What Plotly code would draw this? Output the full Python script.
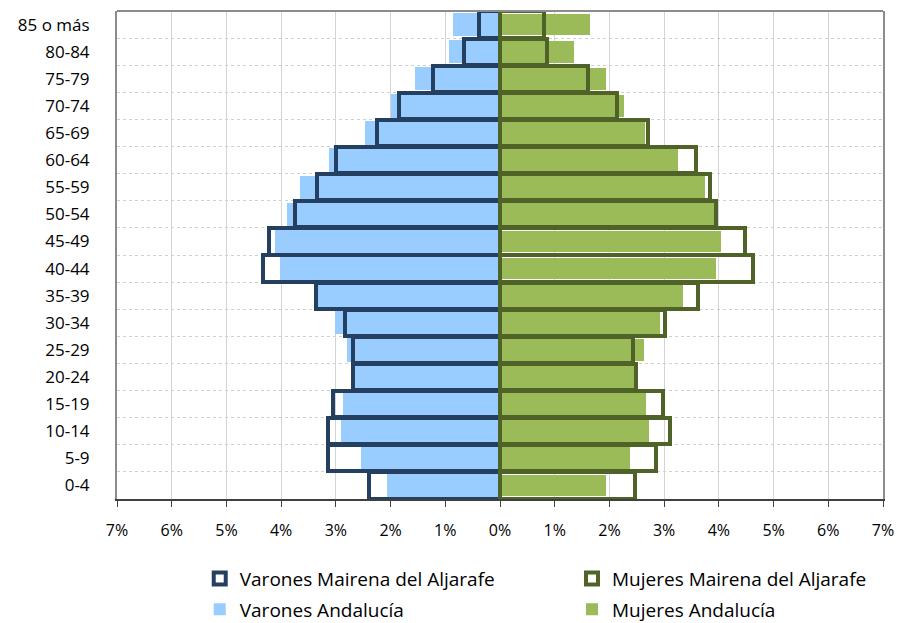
import plotly.graph_objects as go

# grupos de edad, de abajo hacia arriba
grupos = ['0-4', '5-9', '10-14', '15-19', '20-24', '25-29', '30-34', '35-39',
          '40-44', '45-49', '50-54', '55-59', '60-64', '65-69', '70-74',
          '75-79', '80-84', '85 o más']

varones_mairena = [2.40, 3.15, 3.14, 3.05, 2.69, 2.68, 2.83, 3.37, 4.34,
                   4.23, 3.75, 3.34, 2.99, 2.24, 1.85, 1.23, 0.65, 0.38]
varones_andalucia = [2.07, 2.54, 2.91, 2.87, 2.72, 2.80, 3.02, 3.33, 4.03,
                     4.11, 3.89, 3.65, 3.12, 2.46, 1.99, 1.55, 0.93, 0.86]
mujeres_mairena = [2.47, 2.86, 3.10, 2.97, 2.49, 2.43, 3.01, 3.61, 4.62,
                   4.48, 3.95, 3.83, 3.58, 2.71, 2.14, 1.61, 0.86, 0.81]
mujeres_andalucia = [1.93, 2.37, 2.72, 2.67, 2.45, 2.63, 2.93, 3.35, 3.95,
                     4.04, 3.92, 3.75, 3.26, 2.65, 2.26, 1.93, 1.36, 1.65]

ticks = list(range(-7, 8))
tick_labels = ['%d%%' % abs(t) for t in ticks]

pos = list(range(len(grupos)))
font = 'Open Sans, Lato, sans-serif'

traces = [
    go.Bar(y=pos, x=[-v for v in varones_andalucia], orientation='h',
           name='Varones Andalucía', width=0.86,
           marker=dict(color='#99CCFF', line=dict(width=0)), legend='legend3'),
    go.Bar(y=pos, x=mujeres_andalucia, orientation='h',
           name='Mujeres Andalucía', width=0.8,
           marker=dict(color='#9BBB59', line=dict(width=0)), legend='legend4'),
    go.Bar(y=pos, x=[-v for v in varones_mairena], orientation='h',
           name='Varones Mairena del Aljarafe', width=0.97,
           marker=dict(color='rgba(0,0,0,0)', line=dict(color='#243F60', width=4)),
           legend='legend'),
    go.Bar(y=pos, x=mujeres_mairena, orientation='h',
           name='Mujeres Mairena del Aljarafe', width=0.97,
           marker=dict(color='rgba(0,0,0,0)', line=dict(color='#4F6228', width=4)),
           legend='legend2'),
]


def leyenda(x, y):
    return dict(x=x, y=y, xanchor='left', yanchor='middle', orientation='h',
                bgcolor='rgba(0,0,0,0)', font=dict(family=font, size=19, color='#000000'))


layout = go.Layout(
    width=897, height=623,
    margin=dict(l=117, r=14, t=11, b=124, autoexpand=False),
    paper_bgcolor='white', plot_bgcolor='white',
    barmode='overlay', bargap=0, showlegend=True,
    font=dict(family=font, size=17, color='#000000'),
    xaxis=dict(range=[-7, 7], tickvals=ticks, ticktext=tick_labels,
               tickfont=dict(size=16),
               showgrid=True, gridcolor='#d4d4d4', gridwidth=1,
               zeroline=False, showline=True, linecolor='#404040', linewidth=2,
               ticks='outside', ticklen=6, tickcolor='#404040',
               ticklabelstandoff=10, automargin=False),
    yaxis=dict(range=[-0.5, len(grupos) - 0.5], tickvals=pos, ticktext=grupos,
               showgrid=False, zeroline=False,
               showline=True, linecolor='#8c8c8c', linewidth=2, mirror=True,
               ticks='', ticklabelstandoff=22, automargin=False,
               minor=dict(tick0=0.5, dtick=1, showgrid=True,
                          gridcolor='#d0d0d0', griddash='dot', gridwidth=1)),
    shapes=[dict(type='line', xref='paper', yref='paper', x0=0, x1=1, y0=1, y1=1,
                 line=dict(color='#8c8c8c', width=2))],
    legend=leyenda(0.108, -0.163),
    legend2=leyenda(0.594, -0.163),
    legend3=leyenda(0.108, -0.226),
    legend4=leyenda(0.594, -0.226),
)

fig = go.Figure(data=traces, layout=layout)
# quitar el margen de la página para que la figura ocupe toda la ventana
fig.write_html('out.html', config={'displayModeBar': False},
               post_script="document.body.style.margin='0';"
                           "document.body.style.overflow='hidden';")
